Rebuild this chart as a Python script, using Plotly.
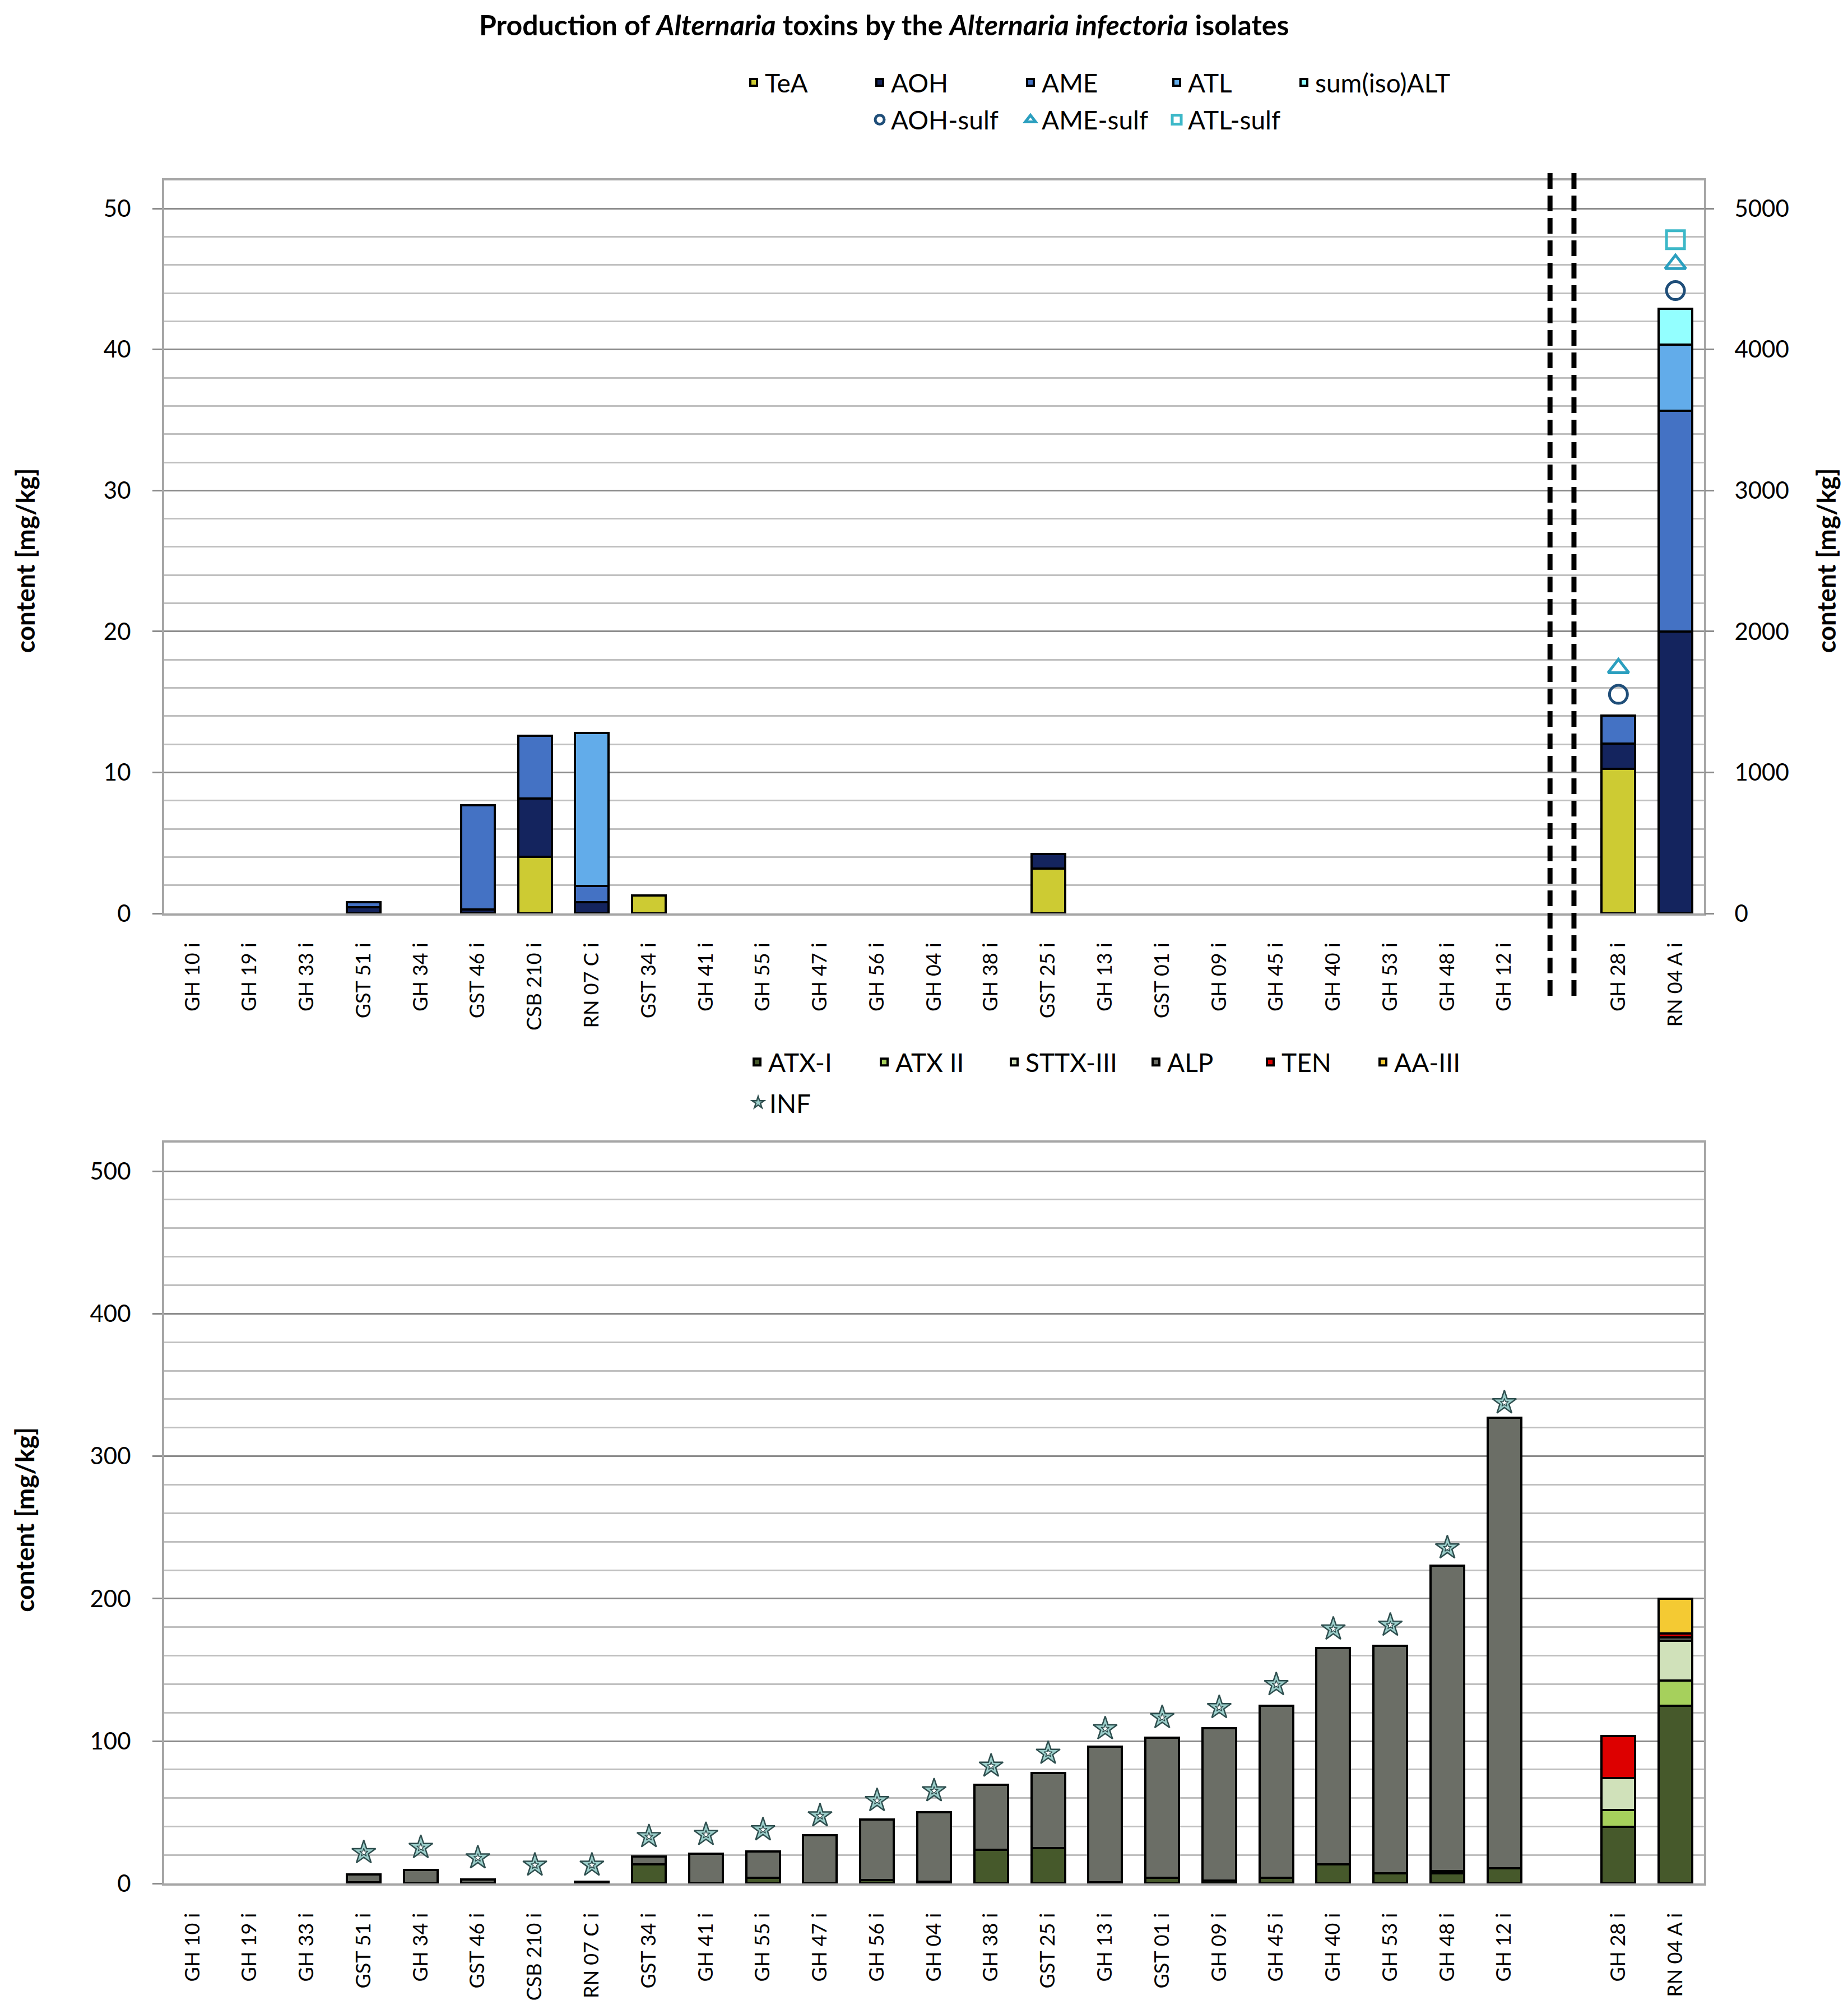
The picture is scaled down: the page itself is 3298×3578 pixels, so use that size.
import plotly.graph_objects as go

# ---------------- data ----------------
isolates = ["GH 10 i", "GH 19 i", "GH 33 i", "GST 51 i", "GH 34 i", "GST 46 i", "CSB 210 i",
            "RN 07 C i", "GST 34 i", "GH 41 i", "GH 55 i", "GH 47 i", "GH 56 i", "GH 04 i",
            "GH 38 i", "GST 25 i", "GH 13 i", "GST 01 i", "GH 09 i", "GH 45 i", "GH 40 i",
            "GH 53 i", "GH 48 i", "GH 12 i", "GH 28 i", "RN 04 A i"]
N_LEFT = 24  # first 24 isolates on the left axis (top chart), last two on right axis

# top chart (mg/kg)
TeA = [0, 0, 0, 0, 0, 0, 4.0, 0, 1.27, 0, 0, 0, 0, 0, 0, 3.2, 0, 0, 0, 0, 0, 0, 0, 0, 1024, 0]
AOH = [0, 0, 0, 0.45, 0, 0.28, 4.15, 0.8, 0, 0, 0, 0, 0, 0, 0, 1.0, 0, 0, 0, 0, 0, 0, 0, 0, 181, 2000]
AME = [0, 0, 0, 0.35, 0, 7.4, 4.45, 1.15, 0, 0, 0, 0, 0, 0, 0, 0, 0, 0, 0, 0, 0, 0, 0, 0, 200, 1566]
ATL = [0, 0, 0, 0, 0, 0, 0, 10.85, 0, 0, 0, 0, 0, 0, 0, 0, 0, 0, 0, 0, 0, 0, 0, 0, 0, 470]
sumALT = [0] * 25 + [253]
AOH_sulf = [None] * 24 + [1554, 4418]
AME_sulf = [None] * 24 + [1739, 4606]
ATL_sulf = [None] * 24 + [None, 4779]

# bottom chart (mg/kg)
ATX_I = [0, 0, 0, 1.0, 0, 0, 0, 0, 13.7, 0, 4.2, 0, 2.5, 1.3, 23.6, 25, 0.8, 4, 2, 4, 13.6, 7.4, 7.4, 10.7, 40, 125]
ATX_II = [0] * 24 + [11.5, 17.5]
STTX_III = [0] * 22 + [1.5, 0] + [22.5, 28]
ALP = [0, 0, 0, 5.4, 9.5, 3.0, 0, 1.3, 5.5, 20.9, 18.2, 33.8, 42.5, 48.6, 45.8, 52.7, 95.5, 98.5,
       107.2, 121, 151.9, 159.6, 214.4, 316.1, 0, 2.5]
TEN = [0] * 24 + [29.5, 2.5]
AA_III = [0] * 24 + [0, 24.5]
INF = [None, None, None, 21.8, 25.4, 18.1, 13, 13, 33, 34.5, 37.8, 47.6, 58.3, 65.2, 82.5, 91.5,
       108.7, 116.6, 123.6, 139.7, 178.7, 181.4, 235.7, 337.5, None, None]

# ---------------- helpers ----------------
SPACER = " "
cats = isolates[:N_LEFT] + [SPACER] + isolates[N_LEFT:]


def nz(v):
    return v if v else None


def with_spacer(vals):
    v = [nz(x) for x in vals]
    return v[:N_LEFT] + [None] + v[N_LEFT:]


def left_part(vals):
    v = with_spacer(vals)
    return [x if i < N_LEFT else None for i, x in enumerate(v)]


def right_part(vals):
    v = with_spacer(vals)
    return [x if i > N_LEFT else None for i, x in enumerate(v)]


LABEL_FONT = "Lato, Roboto, sans-serif"
OUTLINE = dict(color="black", width=4)

W, H = 3298, 3578
L, R = 285, 265
PW = W - L - R


def py(px):
    return 1 - px / H


def pxx(px):
    return (px - L) / PW


legends = {}


def new_legend(x_sym, y_row):
    key = "legend" if not legends else "legend%d" % (len(legends) + 1)
    legends[key] = dict(orientation="h", xanchor="left", yanchor="middle", bgcolor="rgba(0,0,0,0)",
                        font=dict(family=LABEL_FONT, size=46, color="black"), itemwidth=30,
                        x=pxx(x_sym - 4), y=py(y_row))
    return key


fig = go.Figure()

top_series = [("TeA", TeA, "#CDCB33", 1321), ("AOH", AOH, "#14245E", 1546), ("AME", AME, "#4472C4", 1815),
              ("ATL", ATL, "#62ACEA", 2076), ("sum(iso)ALT", sumALT, "#93FFFF", 2303)]
for name, vals, col, lx in top_series:
    fig.add_trace(go.Bar(x=cats, y=left_part(vals), name=name, marker=dict(color=col, line=OUTLINE),
                         xaxis="x", yaxis="y", legend=new_legend(lx, 140), showlegend=True))
for name, vals, col, lx in top_series:
    fig.add_trace(go.Bar(x=cats, y=right_part(vals), name=name, marker=dict(color=col, line=OUTLINE),
                         xaxis="x", yaxis="y2", showlegend=False))

marker_series = [("AOH-sulf", AOH_sulf, "circle-open", "#1F4E79", 1546),
                 ("AME-sulf", AME_sulf, "triangle-up-open", "#2B9FBF", 1815),
                 ("ATL-sulf", ATL_sulf, "square-open", "#3DB8C8", 2076)]
for name, vals, sym, col, lx in marker_series:
    fig.add_trace(go.Scatter(x=cats, y=with_spacer([v if v is not None else 0 for v in vals]),
                             mode="markers", name=name, xaxis="x", yaxis="y2", legend=new_legend(lx, 207),
                             marker=dict(symbol=sym, size=32, color=col, line=dict(width=5, color=col))))

bottom_series = [("ATX-I", ATX_I, "#46592B", 1327), ("ATX II", ATX_II, "#A6D05C", 1554),
                 ("STTX-III", STTX_III, "#D0E1BA", 1786), ("ALP", ALP, "#6B6E66", 2039),
                 ("TEN", TEN, "#DD0000", 2243), ("AA-III", AA_III, "#F4CA33", 2444)]
for name, vals, col, lx in bottom_series:
    fig.add_trace(go.Bar(x=cats, y=with_spacer(vals), name=name, marker=dict(color=col, line=OUTLINE),
                         xaxis="x2", yaxis="y3", legend=new_legend(lx, 1900)))

inf_y = with_spacer([v if v is not None else 0 for v in INF])
fig.add_trace(go.Scatter(x=cats, y=inf_y, mode="markers", name="INF", xaxis="x2", yaxis="y3",
                         legend=new_legend(1329, 1973),
                         marker=dict(symbol="star", size=32, color="#9CCFCB",
                                     line=dict(width=2.5, color="#2F4F4F"))))
fig.add_trace(go.Scatter(x=cats, y=inf_y, mode="markers", name="INF", xaxis="x2", yaxis="y3",
                         showlegend=False, hoverinfo="skip",
                         marker=dict(symbol="star", size=11, color="white",
                                     line=dict(width=1.5, color="#2F4F4F"))))

# ---------------- layout ----------------
GRID_MAJOR = "#8C8C8C"
GRID_MINOR = "#C0C0C0"
BORDER = "#A6A6A6"

xcommon = dict(type="category", categoryorder="array", categoryarray=cats, range=[-0.5, len(cats) - 0.5],
               showline=True, linecolor=BORDER, linewidth=4, mirror=True, ticks="", tickangle=-90,
               tickfont=dict(family=LABEL_FONT, size=36, color="black"), showgrid=False, zeroline=False,
               ticklabelstandoff=34)
ytickfont = dict(family=LABEL_FONT, size=42, color="black")
ycommon = dict(showline=True, linecolor=BORDER, linewidth=4, mirror=True, ticks="outside", ticklen=17,
               tickcolor=GRID_MAJOR, tickwidth=3, tickfont=ytickfont,
               showgrid=True, gridcolor=GRID_MAJOR, gridwidth=3, zeroline=False, ticklabelstandoff=30)

fig.update_layout(
    width=W, height=H, margin=dict(l=L, r=R, t=0, b=0), plot_bgcolor="white", paper_bgcolor="white",
    barmode="stack", bargap=0.41, showlegend=True,
    xaxis=dict(xcommon, domain=[0, 1], anchor="y"),
    yaxis=dict(ycommon, domain=[py(1633), py(316)], range=[0, 52], dtick=10, anchor="x",
               minor=dict(dtick=2, showgrid=True, gridcolor=GRID_MINOR, gridwidth=3)),
    yaxis2=dict(overlaying="y", side="right", range=[0, 5200], dtick=1000, showgrid=False, zeroline=False,
                ticks="outside", ticklen=17, tickcolor=GRID_MAJOR, tickwidth=3, showline=False,
                tickfont=ytickfont, ticklabelstandoff=28, anchor="x"),
    xaxis2=dict(xcommon, domain=[0, 1], anchor="y3"),
    yaxis3=dict(ycommon, domain=[py(3376), py(2045)], range=[0, 520], dtick=100, anchor="x2",
                minor=dict(dtick=20, showgrid=True, gridcolor=GRID_MINOR, gridwidth=3)),
    **legends,
)

fig.add_annotation(text="<b>Production of <i>Alternaria</i> toxins by the <i>Alternaria infectoria</i> isolates</b>",
                   xref="paper", yref="paper", x=pxx(1569), y=py(4), showarrow=False,
                   font=dict(family=LABEL_FONT, size=50, color="black"), xanchor="center", yanchor="top")
for xp, yp in [(36, 999), (3250, 999), (36, 2722)]:
    fig.add_annotation(text="<b>content [mg/kg]</b>", xref="paper", yref="paper", x=pxx(xp), y=py(yp),
                       showarrow=False, textangle=-90, font=dict(family=LABEL_FONT, size=46, color="black"),
                       xanchor="center", yanchor="middle")

for xv in (23.80, 24.22):
    fig.add_shape(type="line", xref="x", yref="paper", x0=xv, x1=xv, y0=py(1781), y1=py(293),
                  line=dict(color="black", width=9, dash="28px,12px"), layer="above")

fig.write_html("out.html")
